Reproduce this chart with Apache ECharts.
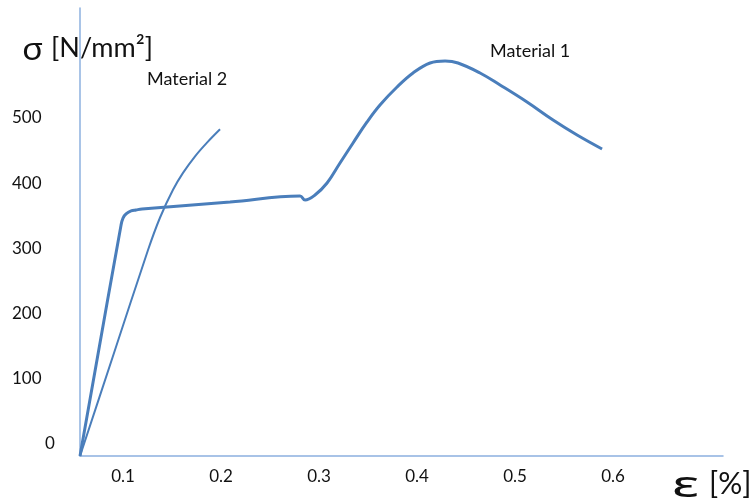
<!DOCTYPE html>
<html><head><meta charset="utf-8">
<script src="https://cdn.jsdelivr.net/npm/echarts@6/dist/echarts.min.js"></script>
<style>html,body{margin:0;padding:0;background:#fff}#c{width:756px;height:500px}</style>
</head><body><div id="c"></div>
<script>
// Tick labels
const strainTicks = [0.1, 0.2, 0.3, 0.4, 0.5, 0.6];
const stressTicks = [0, 100, 200, 300, 400, 500];
// Series names
const seriesNames = ['Material 1', 'Material 2'];
// Material 1 (strain %, stress N/mm2)
const material1Strain = [0.0561, 0.0980, 0.1000, 0.1031, 0.1082, 0.1133, 0.1194, 0.2092, 0.2806, 0.2857, 0.2959, 0.3082, 0.3214, 0.3347, 0.3490, 0.3622, 0.3796, 0.3959, 0.4133, 0.4286, 0.4418, 0.4643, 0.4847, 0.5122, 0.5388, 0.5633, 0.5888];
const material1Stress = [-18.4, 335.9, 346.6, 352.8, 357.4, 358.9, 360.4, 371.2, 380.4, 374.2, 381.9, 400.3, 431.0, 461.7, 493.9, 519.9, 547.5, 569.0, 584.4, 587.4, 584.4, 569.0, 550.6, 524.5, 496.9, 473.9, 452.5];
// Material 2
const material2Strain = [0.0561, 0.0908, 0.1255, 0.1378, 0.1510, 0.1612, 0.1735, 0.1857, 0.1990];
const material2Stress = [-18.4, 139.6, 297.5, 347.4, 389.9, 415.8, 441.3, 462.3, 482.7];

const zip = (a, b) => a.map((v, i) => [v, b[i]]);
const lineColor = '#4a7ebb';
const axisColor = '#8cb0df';
const txt = '#111111';

const chart = echarts.init(document.getElementById('c'), null, {renderer: 'canvas'});
chart.setOption({
  animation: false,
  backgroundColor: '#ffffff',
  grid: {left: 80, right: 33, top: 8, bottom: 44},
  xAxis: {
    type: 'value', min: 0.0561, max: 0.7122,
    splitLine: {show: false},
    axisTick: {show: false},
    axisLine: {show: true, onZero: false, lineStyle: {color: axisColor, width: 1.5}},
    axisLabel: {customValues: strainTicks, margin: 12, fontSize: 17, fontFamily: 'Lato', color: txt,
      formatter: v => String(v)}
  },
  yAxis: {
    type: 'value', min: -18.4, max: 668.7,
    splitLine: {show: false},
    axisTick: {show: false},
    axisLine: {show: true, onZero: false, lineStyle: {color: axisColor, width: 1.5}},
    axisLabel: {customValues: stressTicks, margin: 68, align: 'left', fontSize: 17, fontFamily: 'Lato', color: txt,
      formatter: v => v === 0 ? '{z|0}' : String(v),
      rich: {z: {padding: [0, 0, 0, 33], fontSize: 17, fontFamily: 'Lato', color: txt}}}
  },
  series: [
    {name: seriesNames[0], type: 'line', data: zip(material1Strain, material1Stress), smooth: 0.4,
     showSymbol: false, lineStyle: {color: lineColor, width: 3}, itemStyle: {color: lineColor}},
    {name: seriesNames[1], type: 'line', data: zip(material2Strain, material2Stress), smooth: 0.3,
     showSymbol: false, lineStyle: {color: lineColor, width: 2}, itemStyle: {color: lineColor}}
  ],
  graphic: [
    {type: 'text', left: 22, top: 36, scaleX: 1.15, style: {text: 'σ', font: '30px "Noto Sans"', fill: txt}},
    {type: 'text', left: 51, top: 35, style: {text: '[N/mm²]', font: '27px Lato', fill: txt}},
    {type: 'text', left: 672, top: 469, scaleX: 1.6, style: {text: 'ε', font: '36px "Noto Sans"', fill: txt}},
    {type: 'text', left: 709, top: 469, style: {text: '[%]', font: '30px Lato', fill: txt}},
    {type: 'text', left: 147, top: 70, style: {text: seriesNames[1], font: '18px Lato', fill: txt}},
    {type: 'text', left: 490, top: 42, style: {text: seriesNames[0], font: '18px Lato', fill: txt}}
  ]
});
</script></body></html>
